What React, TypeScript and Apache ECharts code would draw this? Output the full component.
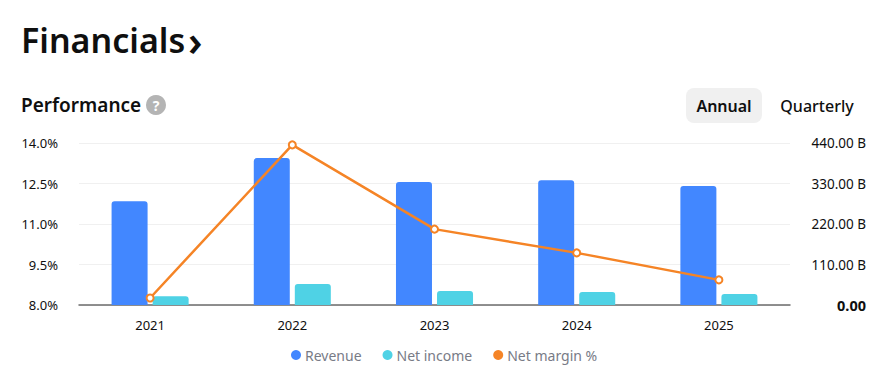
import React, { useEffect, useRef } from "react";
import * as echarts from "echarts";

const years = ["2021", "2022", "2023", "2024", "2025"];
const revenue = [282, 399, 334, 339, 323];
const netIncome = [24, 57, 38, 35, 30];
const netMargin = [8.26, 13.93, 10.81, 9.93, 8.93];
const FONT = "'Noto Sans', sans-serif";
const ORANGE = "#f58426";

export default function App() {
  const ref = useRef<HTMLDivElement>(null);
  useEffect(() => {
    document.body.style.margin = "0";
    const chart = echarts.init(ref.current!, null, { renderer: "svg" });
    chart.setOption({
      animation: false,
      textStyle: { fontFamily: FONT },
      grid: { left: 79, right: 103, top: 143, bottom: 85 },
      legend: {
        left: 286,
        top: 343,
        icon: "circle",
        itemWidth: 10,
        itemHeight: 10,
        itemGap: 21,
        selectedMode: false,
        textStyle: { color: "#787b86", fontSize: 14, fontFamily: FONT, padding: [0, 0, 0, -1] },
        data: [
          { name: "Revenue" },
          { name: "Net income" },
          { name: "Net margin %", itemStyle: { color: ORANGE, borderWidth: 0 } },
        ],
      },
      graphic: [
        { type: "text", x: 21, y: 23, style: { text: "Financials", fontSize: 34, fontWeight: 600, fill: "#0f0f0f", fontFamily: FONT } },
        { type: "text", x: 188, y: 18, style: { text: "›", fontSize: 42, fontWeight: 600, fill: "#0f0f0f", fontFamily: FONT } },
        { type: "text", x: 21, y: 95, style: { text: "Performance", fontSize: 19, fontWeight: 600, fill: "#0f0f0f", fontFamily: FONT } },
        { type: "circle", shape: { cx: 156, cy: 105, r: 10 }, style: { fill: "#b4b4b4" } },
        { type: "text", x: 156, y: 105, style: { text: "?", fontSize: 14, fontWeight: 700, fill: "#ffffff", align: "center", verticalAlign: "middle", fontFamily: FONT } },
        { type: "rect", shape: { x: 686, y: 88, width: 76, height: 35, r: 8 }, style: { fill: "#f0f0f0" } },
        { type: "text", x: 724, y: 106, style: { text: "Annual", fontSize: 16, fontWeight: 600, fill: "#0f0f0f", align: "center", verticalAlign: "middle", fontFamily: FONT } },
        { type: "text", x: 817, y: 106, style: { text: "Quarterly", fontSize: 16, fontWeight: 500, fill: "#0f0f0f", align: "center", verticalAlign: "middle", fontFamily: FONT } },
      ],
      xAxis: {
        type: "category",
        data: years,
        axisTick: { show: false },
        axisLine: { lineStyle: { color: "#6b6b6b", width: 1.5 } },
        axisLabel: { color: "#0f0f0f", fontSize: 13, margin: 13, fontFamily: FONT },
      },
      yAxis: [
        {
          type: "value",
          min: 8,
          max: 14,
          interval: 1.5,
          position: "left",
          axisLine: { show: false },
          axisTick: { show: false },
          splitLine: { lineStyle: { color: "#f0f0f0", width: 1 } },
          axisLabel: { color: "#0f0f0f", fontSize: 13, margin: 21, formatter: (v: number) => v.toFixed(1) + "%", fontFamily: FONT },
        },
        {
          type: "value",
          min: 0,
          max: 440,
          interval: 110,
          position: "right",
          axisLine: { show: false },
          axisTick: { show: false },
          splitLine: { show: false },
          axisLabel: {
            color: "#0f0f0f",
            fontSize: 13.5,
            margin: 76,
            align: "right",
            fontFamily: FONT,
            formatter: (v: number) => (v === 0 ? "{b|0.00}" : v.toFixed(2) + " B"),
            rich: { b: { fontWeight: 700, fontSize: 14.5, color: "#0f0f0f", fontFamily: FONT } },
          },
        },
      ],
      series: [
        { name: "Revenue", type: "bar", yAxisIndex: 1, data: revenue, barWidth: 36, barGap: "14%", itemStyle: { color: "#4287ff", borderRadius: [3, 3, 0, 0] } },
        { name: "Net income", type: "bar", yAxisIndex: 1, data: netIncome, barWidth: 36, itemStyle: { color: "#4fd2e5", borderRadius: [3, 3, 0, 0] } },
        {
          name: "Net margin %",
          type: "line",
          yAxisIndex: 0,
          data: netMargin,
          symbol: "circle",
          symbolSize: 7,
          z: 5,
          lineStyle: { color: ORANGE, width: 2.5 },
          itemStyle: { color: "#ffffff", borderColor: ORANGE, borderWidth: 2 },
        },
      ],
    });
    return () => chart.dispose();
  }, []);
  return <div ref={ref} style={{ width: 893, height: 390 }} />;
}
